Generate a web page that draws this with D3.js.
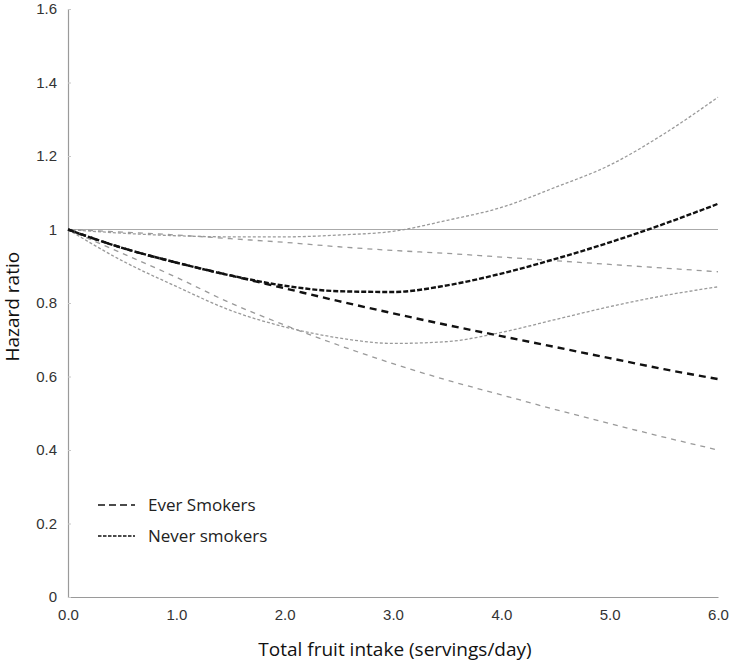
<!DOCTYPE html>
<html>
<head>
<meta charset="utf-8">
<script src="https://cdn.jsdelivr.net/npm/d3@7"></script>
<style>
  body { margin: 0; background: #fff; }
  svg { font-family: "Open Sans", "Noto Sans", sans-serif; }
</style>
</head>
<body>
<div id="chart"></div>
<script>
var xValues = [0, 0.5, 1, 1.5, 2, 2.5, 3, 3.5, 4, 4.5, 5, 5.5, 6];

// hazard ratios
var everSmokers = [1, 0.95, 0.91, 0.875, 0.84, 0.805, 0.772, 0.74, 0.71, 0.68, 0.65, 0.62, 0.593];
var everUpper   = [1, 0.993, 0.985, 0.975, 0.965, 0.953, 0.943, 0.935, 0.925, 0.915, 0.905, 0.895, 0.885];
var everLower   = [1, 0.935, 0.87, 0.80, 0.74, 0.685, 0.635, 0.59, 0.55, 0.51, 0.472, 0.435, 0.40];
var neverSmokers = [1, 0.95, 0.91, 0.875, 0.847, 0.832, 0.83, 0.848, 0.88, 0.92, 0.965, 1.015, 1.07];
var neverUpper   = [1, 0.99, 0.983, 0.98, 0.98, 0.985, 0.995, 1.025, 1.06, 1.115, 1.175, 1.26, 1.36];
var neverLower   = [1, 0.915, 0.845, 0.78, 0.735, 0.705, 0.69, 0.695, 0.72, 0.755, 0.79, 0.82, 0.844];

var xTicks = [0, 1, 2, 3, 4, 5, 6];
var yTicks = [0, 0.2, 0.4, 0.6, 0.8, 1, 1.2, 1.4, 1.6];
var legendLabels = ["Ever Smokers", "Never smokers"];

var margin = { top: 9, right: 14, bottom: 66, left: 68 },
    width = 732 - margin.left - margin.right,
    height = 663 - margin.top - margin.bottom;

var x = d3.scaleLinear().domain([0, 6]).range([0, width]);
var y = d3.scaleLinear().domain([0, 1.6]).range([height, 0]);

var svg = d3.select("#chart")
  .append("svg")
  .attr("width", 732)
  .attr("height", 663)
  .append("g")
  .attr("transform", "translate(" + margin.left + "," + margin.top + ")");

var xAxis = d3.axisBottom(x).tickValues(xTicks).tickSize(0).tickPadding(12)
  .tickFormat(d3.format(".1f"));
var yAxis = d3.axisLeft(y).tickValues(yTicks).tickSize(-3).tickPadding(11)
  .tickFormat(function (d) { return (d === 0 || d === 1) ? String(d) : d.toFixed(1); });

var gx = svg.append("g").attr("transform", "translate(0," + height + ")").call(xAxis);
var gy = svg.append("g").call(yAxis);

[gx, gy].forEach(function (g) {
  g.select(".domain").attr("stroke", "#9a9a9a").attr("stroke-width", 1.2);
  g.selectAll(".tick line").attr("stroke", "#c8c8c8");
  g.selectAll(".tick text").attr("fill", "#333").style("font-size", "15px");
});

// reference line at HR = 1
svg.append("line")
  .attr("x1", x(0)).attr("x2", x(6))
  .attr("y1", y(1)).attr("y2", y(1))
  .attr("stroke", "#aaa").attr("stroke-width", 1.2);

var line = d3.line()
  .x(function (d, i) { return x(xValues[i]); })
  .y(function (d) { return y(d); })
  .curve(d3.curveMonotoneX);

var series = [
  { values: everUpper, color: "#9a9a9a", width: 1.3, dash: "5,5" },
  { values: everLower, color: "#9a9a9a", width: 1.3, dash: "5,5" },
  { values: neverUpper, color: "#9a9a9a", width: 1.3, dash: "3,2" },
  { values: neverLower, color: "#9a9a9a", width: 1.3, dash: "3,2" },
  { values: everSmokers, color: "#111", width: 2.4, dash: "7,5" },
  { values: neverSmokers, color: "#111", width: 2.4, dash: "5,2" }
];

svg.selectAll(".curve")
  .data(series)
  .enter()
  .append("path")
  .attr("class", "curve")
  .attr("d", function (d) { return line(d.values); })
  .attr("fill", "none")
  .attr("stroke", function (d) { return d.color; })
  .attr("stroke-width", function (d) { return d.width; })
  .attr("stroke-dasharray", function (d) { return d.dash; });

// legend
var legend = svg.selectAll(".legend")
  .data(legendLabels)
  .enter()
  .append("g")
  .attr("class", "legend")
  .attr("transform", function (d, i) { return "translate(30," + (496 + i * 31) + ")"; });

legend.append("line")
  .attr("x1", 0).attr("x2", 37)
  .attr("stroke", "#111").attr("stroke-width", 1.6)
  .attr("stroke-dasharray", function (d, i) { return i === 0 ? "7,4" : "3.5,1.5"; });

legend.append("text")
  .attr("x", 50).attr("dy", "0.35em")
  .style("font-size", "17px").attr("fill", "#222")
  .text(function (d) { return d; });

svg.append("text")
  .attr("x", width / 2 + 2).attr("y", height + 59)
  .attr("text-anchor", "middle")
  .style("font-size", "19px").attr("fill", "#111")
  .text("Total fruit intake (servings/day)");

svg.append("text")
  .attr("transform", "rotate(-90)")
  .attr("x", -(y(0.79))).attr("y", -49)
  .attr("text-anchor", "middle")
  .style("font-size", "19px").attr("fill", "#111")
  .text("Hazard ratio");
</script>
</body>
</html>
